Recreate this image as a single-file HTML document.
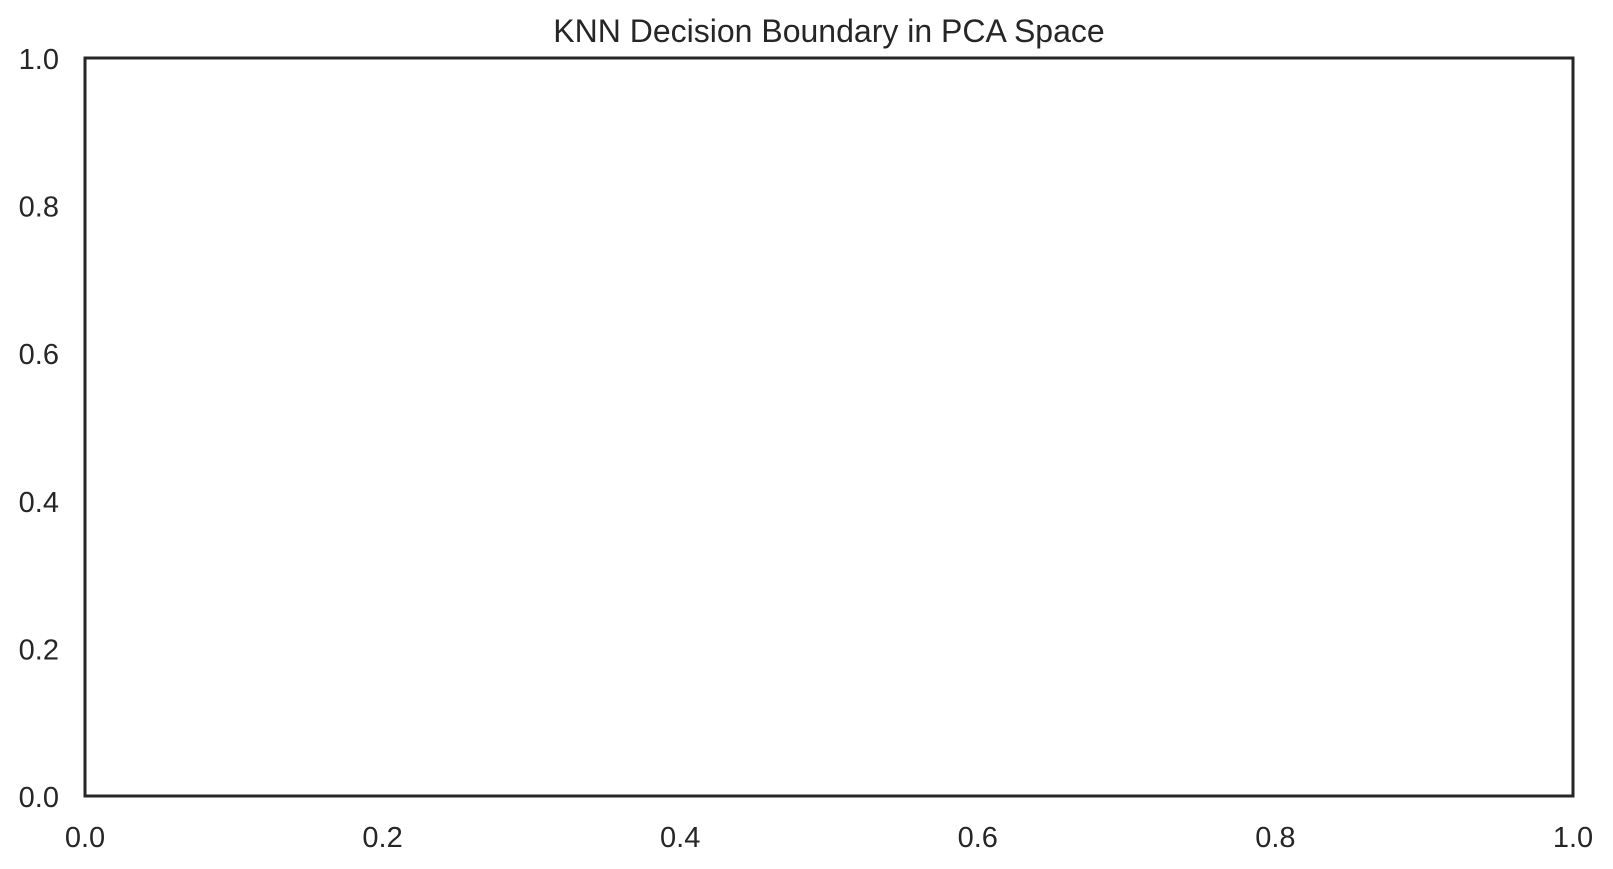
<!DOCTYPE html>
<html><head><meta charset="utf-8"><style>
html,body{margin:0;padding:0;background:#fff;}
svg{display:block;font-family:"Liberation Sans",sans-serif;}
</style></head><body>
<svg width="1613" height="869" viewBox="0 0 1613 869">
<text x="829" y="42" font-size="32" fill="#262626" text-anchor="middle">KNN Decision Boundary in PCA Space</text>
<g id="yticks"></g>
<g id="xticks"></g>
<rect x="85" y="58" width="1488" height="738" fill="none" stroke="#262626" stroke-width="3"/>
</svg>
<script>
const xTickValues=[0,0.2,0.4,0.6,0.8,1.0];
const yTickValues=[0,0.2,0.4,0.6,0.8,1.0];
const xTickLabels=["0.0","0.2","0.4","0.6","0.8","1.0"];
const yTickLabels=["0.0","0.2","0.4","0.6","0.8","1.0"];
const X0=85,X1=1573,Y0=796,Y1=58;
function sx(v){return X0+(X1-X0)*v;}
function sy(v){return Y0+(Y1-Y0)*v;}
const ns="http://www.w3.org/2000/svg";
const yg=document.getElementById('yticks'),xg=document.getElementById('xticks');
yTickValues.forEach((v,i)=>{
 const t=document.createElementNS(ns,'text');
 
 
 t.setAttribute('x',59);t.setAttribute('y',sy(v)+11);
 t.setAttribute('text-anchor','end');t.setAttribute('font-size','29');t.setAttribute('fill','#262626');
 t.textContent=yTickLabels[i];yg.appendChild(t);
});
xTickValues.forEach((v,i)=>{
 const t=document.createElementNS(ns,'text');
 
 
 t.setAttribute('x',sx(v));t.setAttribute('y',847);
 t.setAttribute('text-anchor','middle');t.setAttribute('font-size','29');t.setAttribute('fill','#262626');
 t.textContent=xTickLabels[i];xg.appendChild(t);
});
</script>
</body></html>
